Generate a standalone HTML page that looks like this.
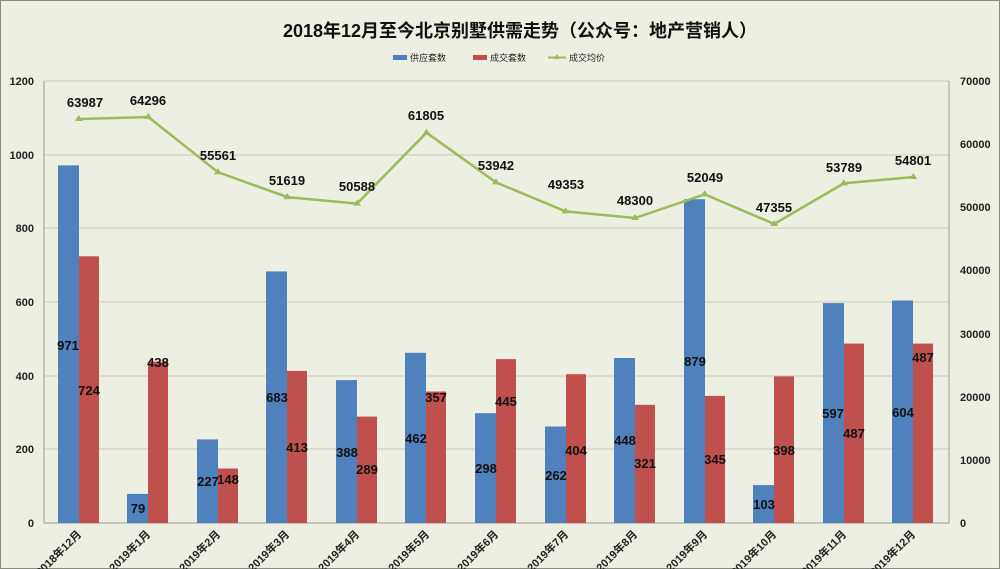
<!DOCTYPE html>
<html><head><meta charset="utf-8"><style>
html,body{margin:0;padding:0;background:#eeefe3;}
svg{display:block;font-family:"Liberation Sans","Noto Sans CJK SC",sans-serif;}
.t{font-weight:bold;font-size:13px;fill:#111;text-anchor:middle;}
.ax{font-weight:bold;font-size:11px;fill:#222;}
</style></head><body>
<svg width="1000" height="569" viewBox="0 0 1000 569">
<rect x="0.5" y="0.5" width="999" height="568" fill="#eeefe3" stroke="#8a8a80"/>
<text x="520" y="37" text-anchor="middle" font-size="18" font-weight="bold" fill="#111">2018年12月至今北京别墅供需走势（公众号：地产营销人）</text>
<rect x="393" y="55" width="14" height="5" fill="#4f81bd"/><text x="410" y="61" font-size="9" fill="#222">供应套数</text>
<rect x="473" y="55" width="14" height="5" fill="#c0504d"/><text x="490" y="61" font-size="9" fill="#222">成交套数</text>
<line x1="548" y1="57.5" x2="566" y2="57.5" stroke="#9bbb59" stroke-width="2"/><path d="M557 54 L560 59 L554 59Z" fill="#9bbb59"/><text x="569" y="61" font-size="9" fill="#222">成交均价</text>
<g stroke="#c8c8b8" stroke-width="1">
<line x1="44" y1="81" x2="949" y2="81"/><line x1="44" y1="155" x2="949" y2="155"/><line x1="44" y1="228" x2="949" y2="228"/><line x1="44" y1="302" x2="949" y2="302"/><line x1="44" y1="376" x2="949" y2="376"/><line x1="44" y1="449" x2="949" y2="449"/>
</g>
<line x1="44" y1="81" x2="44" y2="523" stroke="#999"/><line x1="949" y1="81" x2="949" y2="523" stroke="#999"/><line x1="44" y1="523" x2="949" y2="523" stroke="#999"/>
<g class="ax" text-anchor="end">
<text x="34" y="85">1200</text><text x="34" y="159">1000</text><text x="34" y="232">800</text><text x="34" y="306">600</text><text x="34" y="380">400</text><text x="34" y="453">200</text><text x="34" y="527">0</text>
</g>
<g class="ax" text-anchor="start">
<text x="960" y="85">70000</text><text x="960" y="148">60000</text><text x="960" y="211">50000</text><text x="960" y="274">40000</text><text x="960" y="338">30000</text><text x="960" y="401">20000</text><text x="960" y="464">10000</text><text x="960" y="527">0</text>
</g>
<g fill="#4f81bd">
<rect x="58" y="165.4" width="21" height="357.6"/><rect x="127" y="493.9" width="21" height="29.1"/><rect x="197" y="439.4" width="21" height="83.6"/><rect x="266" y="271.4" width="21" height="251.6"/><rect x="336" y="380.1" width="21" height="142.9"/><rect x="405" y="352.8" width="21" height="170.2"/><rect x="475" y="413.2" width="21" height="109.8"/><rect x="545" y="426.5" width="21" height="96.5"/><rect x="614" y="358" width="21" height="165"/><rect x="684" y="199.2" width="21" height="323.8"/><rect x="753" y="485.1" width="21" height="37.9"/><rect x="823" y="303.1" width="21" height="219.9"/><rect x="892" y="300.5" width="21" height="222.5"/>
</g>
<g fill="#c0504d">
<rect x="79" y="256.3" width="20" height="266.7"/><rect x="148" y="361.7" width="20" height="161.3"/><rect x="218" y="468.5" width="20" height="54.5"/><rect x="287" y="370.9" width="20" height="152.1"/><rect x="357" y="416.6" width="20" height="106.4"/><rect x="426" y="391.5" width="20" height="131.5"/><rect x="496" y="359.1" width="20" height="163.9"/><rect x="566" y="374.2" width="20" height="148.8"/><rect x="635" y="404.8" width="20" height="118.2"/><rect x="705" y="395.9" width="20" height="127.1"/><rect x="774" y="376.4" width="20" height="146.6"/><rect x="844" y="343.6" width="20" height="179.4"/><rect x="913" y="343.6" width="20" height="179.4"/>
</g>
<polyline fill="none" stroke="#9bbb59" stroke-width="2.5" points="78.8,119 148.3,117 217.9,172.2 287.4,197.1 357,203.6 426.5,132.7 496,182.4 565.6,211.4 635.1,218 704.7,194.3 774.2,224 843.8,183.4 913.3,177"/>
<g fill="#9bbb59">
<path d="M78.8,115 l4,6 h-8z"/><path d="M148.3,113 l4,6 h-8z"/><path d="M217.9,168.2 l4,6 h-8z"/><path d="M287.4,193.1 l4,6 h-8z"/><path d="M357,199.6 l4,6 h-8z"/><path d="M426.5,128.7 l4,6 h-8z"/><path d="M496,178.4 l4,6 h-8z"/><path d="M565.6,207.4 l4,6 h-8z"/><path d="M635.1,214 l4,6 h-8z"/><path d="M704.7,190.3 l4,6 h-8z"/><path d="M774.2,220 l4,6 h-8z"/><path d="M843.8,179.4 l4,6 h-8z"/><path d="M913.3,173 l4,6 h-8z"/>
</g>
<g class="t">
<text x="85" y="107">63987</text><text x="148" y="105">64296</text><text x="218" y="160">55561</text><text x="287" y="185">51619</text><text x="357" y="191">50588</text><text x="426" y="120">61805</text><text x="496" y="170">53942</text><text x="566" y="189">49353</text><text x="635" y="205">48300</text><text x="705" y="182">52049</text><text x="774" y="212">47355</text><text x="844" y="172">53789</text><text x="913" y="165">54801</text>
<text x="68" y="350">971</text><text x="89" y="395">724</text>
<text x="138" y="513">79</text><text x="158" y="367">438</text>
<text x="208" y="486">227</text><text x="228" y="484">148</text>
<text x="277" y="402">683</text><text x="297" y="452">413</text>
<text x="347" y="457">388</text><text x="367" y="474">289</text>
<text x="416" y="443">462</text><text x="436" y="402">357</text>
<text x="486" y="473">298</text><text x="506" y="406">445</text>
<text x="556" y="480">262</text><text x="576" y="455">404</text>
<text x="625" y="445">448</text><text x="645" y="468">321</text>
<text x="695" y="366">879</text><text x="715" y="464">345</text>
<text x="764" y="509">103</text><text x="784" y="455">398</text>
<text x="833" y="418">597</text><text x="854" y="438">487</text>
<text x="903" y="417">604</text><text x="923" y="362">487</text>
</g>
<g class="ax" text-anchor="end">
<text transform="translate(82,535) rotate(-45)">2018年12月</text>
<text transform="translate(151,535) rotate(-45)">2019年1月</text>
<text transform="translate(221,535) rotate(-45)">2019年2月</text>
<text transform="translate(290,535) rotate(-45)">2019年3月</text>
<text transform="translate(360,535) rotate(-45)">2019年4月</text>
<text transform="translate(430,535) rotate(-45)">2019年5月</text>
<text transform="translate(499,535) rotate(-45)">2019年6月</text>
<text transform="translate(569,535) rotate(-45)">2019年7月</text>
<text transform="translate(638,535) rotate(-45)">2019年8月</text>
<text transform="translate(708,535) rotate(-45)">2019年9月</text>
<text transform="translate(777,535) rotate(-45)">2019年10月</text>
<text transform="translate(847,535) rotate(-45)">2019年11月</text>
<text transform="translate(916,535) rotate(-45)">2019年12月</text>
</g>
</svg>
</body></html>
